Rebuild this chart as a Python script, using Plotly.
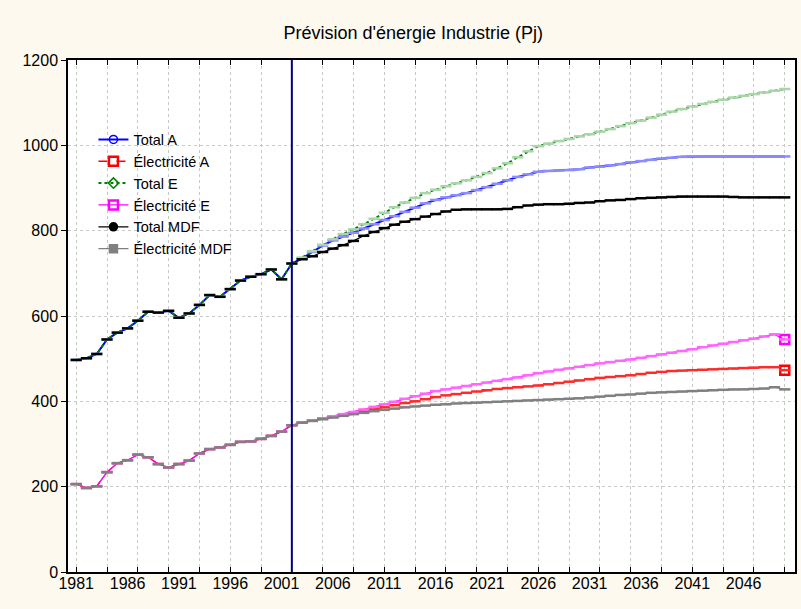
import plotly.graph_objects as go

years = list(range(1981, 2051))
forecast_start = 2002

# Historical values (1981-2002), common to all scenarios
hist_total = [497, 501, 511, 545, 561, 571, 589, 610, 608, 612, 596, 606,
              626, 649, 645, 663, 683, 692, 698, 709, 686, 723]
hist_elec = [206, 197, 201, 234, 255, 262, 275, 269, 253, 245, 253, 261,
             278, 288, 292, 298, 305, 306, 312, 319, 329, 344]

# Forecasts 2003-2050
total_a_fc = [735, 750, 765, 777, 786, 795, 805, 815, 825, 834, 844, 854,
              864, 872, 878, 883, 888, 895, 902, 910, 918, 926, 932, 938,
              940, 941, 942, 944, 948, 950, 953, 956, 960, 963, 966, 969,
              971, 973, 974, 974, 974, 974, 974, 974, 974, 974, 974, 974]
total_e_fc = [737, 752, 767, 780, 792, 803, 815, 828, 842, 855, 866, 877,
              888, 896, 904, 911, 918, 926, 935, 946, 958, 972, 986, 998,
              1004, 1010, 1015, 1021, 1026, 1032, 1038, 1045, 1052, 1058, 1065, 1072,
              1079, 1085, 1091, 1097, 1102, 1107, 1112, 1116, 1120, 1124, 1128, 1132]
total_mdf_fc = [733, 740, 750, 758, 766, 776, 788, 797, 806, 814, 821, 827,
                833, 839, 845, 849, 850, 850, 850, 850, 851, 855, 859, 861,
                862, 862, 863, 865, 866, 869, 871, 872, 874, 876, 877, 878,
                879, 880, 880, 880, 880, 880, 879, 878, 878, 878, 878, 878]
elec_a_fc = [350, 355, 360, 364, 368, 372, 376, 381, 386, 391, 396, 400,
             405, 410, 414, 417, 420, 423, 426, 429, 431, 433, 435, 437,
             440, 443, 446, 449, 452, 455, 457, 459, 461, 464, 467, 469,
             471, 472, 473, 474, 475, 476, 477, 478, 479, 480, 480, 473]
elec_e_fc = [350, 355, 360, 365, 370, 375, 381, 387, 393, 399, 406, 412,
             418, 424, 428, 432, 436, 440, 444, 448, 452, 456, 461, 466,
             470, 474, 477, 481, 485, 489, 492, 495, 498, 502, 506, 510,
             514, 518, 522, 527, 531, 535, 539, 543, 547, 552, 557, 545]
elec_mdf_fc = [350, 354, 358, 362, 366, 370, 373, 377, 380, 383, 386, 388,
               390, 392, 393, 395, 396, 397, 398, 399, 400, 401, 402, 403,
               404, 405, 406, 407, 409, 411, 413, 415, 416, 418, 420, 421,
               422, 423, 424, 425, 426, 427, 428, 428, 429, 430, 433, 428]

names = ["Total A", "Électricité A", "Total E", "Électricité E", "Total MDF", "Électricité MDF"]
series = {
    "Total A": hist_total + total_a_fc,
    "Électricité A": hist_elec + elec_a_fc,
    "Total E": hist_total + total_e_fc,
    "Électricité E": hist_elec + elec_e_fc,
    "Total MDF": hist_total + total_mdf_fc,
    "Électricité MDF": hist_elec + elec_mdf_fc,
}

style = {
    "Total A": dict(color="#0000ff", dash="solid", width=2, mcol="#8c8cff",
                    sym="circle-open", mfill="#0000ff", end=False),
    "Électricité A": dict(color="#ff0000", dash="dash", width=1.3, mcol="#ff2a2a",
                          sym="square-open", mfill="#ff0000", end=True),
    "Total E": dict(color="#008000", dash="dot", width=2, mcol="#a9d6a9",
                    sym="diamond-open", mfill="#008000", end=False),
    "Électricité E": dict(color="#ff00ff", dash="solid", width=1.3, mcol="#ff66ff",
                          sym="square-open", mfill="#ff00ff", end=True),
    "Total MDF": dict(color="#000000", dash="solid", width=1.2, mcol="#000000",
                      sym="circle", mfill="#000000", end=False),
    "Électricité MDF": dict(color="#808080", dash="solid", width=1.2, mcol="#808080",
                            sym="square", mfill="#808080", end=False),
}

fig = go.Figure()

# Lines (MDF underneath, then A, then E)
for n in ["Total MDF", "Électricité MDF", "Total A", "Électricité A", "Total E", "Électricité E"]:
    s = style[n]
    fig.add_trace(go.Scatter(x=years, y=series[n], mode="lines", showlegend=False,
                             hoverinfo="skip",
                             line=dict(color=s["color"], dash=s["dash"], width=s["width"])))

# Dash point markers (drawn slightly above the lines, MDF on top)
for n in ["Total A", "Électricité A", "Total E", "Électricité E", "Total MDF", "Électricité MDF"]:
    s = style[n]
    fig.add_trace(go.Scatter(x=years, y=series[n], mode="markers", showlegend=False,
                             hoverinfo="skip", yaxis="y2",
                             marker=dict(symbol="line-ew", size=8,
                                         line=dict(color=s["mcol"], width=2.5))))

# Legend entries + end markers
for n in names:
    s = style[n]
    if s["end"]:
        xs, ys = [years[-1]], [series[n][-1]]
    else:
        xs, ys = [None], [None]
    fig.add_trace(go.Scatter(
        x=xs, y=ys, mode="lines+markers", name=n, cliponaxis=False,
        line=dict(color=s["color"], dash=s["dash"], width=s["width"]),
        marker=dict(symbol=s["sym"], size=9 if s["end"] else 8, color=s["mfill"],
                    line=dict(color=s["color"], width=2.5 if s["end"] else 1.5)),
    ))

fig.add_shape(type="line", x0=forecast_start, x1=forecast_start, y0=0, y1=1200,
              xref="x", yref="y", line=dict(color="#000080", width=2), layer="above")

fig.update_layout(
    width=801, height=609,
    margin=dict(l=68, r=4, t=60, b=37),
    paper_bgcolor="#fdf9ee",
    plot_bgcolor="#ffffff",
    font=dict(family="Liberation Sans, Arial, sans-serif", size=16, color="#000000"),
    title=dict(text="Prévision d'énergie Industrie (Pj)", x=0.516, xanchor="center",
               y=1 - 33 / 609, yanchor="middle", font=dict(size=18)),
    legend=dict(x=0.035, y=0.876, xanchor="left", yanchor="top",
                bgcolor="rgba(0,0,0,0)", font=dict(size=14.5), tracegroupgap=0),
    showlegend=True,
)

fig.update_xaxes(
    range=[1980.2, 2051.0],
    tickmode="array",
    tickvals=list(range(1981, 2051, 3)),
    ticktext=[""] * len(range(1981, 2051, 3)),
    ticks="inside", ticklen=5, tickcolor="#000000",
    showline=True, linecolor="#000000", linewidth=1.5, mirror="ticks",
    showgrid=True, gridcolor="#c8c8c8", griddash="dot", gridwidth=1,
    zeroline=False,
)
# year labels every 5 years
fig.update_layout(
    xaxis2=dict(overlaying="x", side="bottom", range=[1980.2, 2051.0],
                tickmode="array", tickvals=list(range(1981, 2050, 5)),
                ticktext=[str(y) for y in range(1981, 2050, 5)],
                ticks="", showgrid=False, showline=False, zeroline=False,
                tickfont=dict(size=16), anchor="y"),
    yaxis2=dict(overlaying="y", range=[-7, 1193], visible=False, showgrid=False,
                zeroline=False),
)
fig.add_trace(go.Scatter(x=[None], y=[None], xaxis="x2", showlegend=False, hoverinfo="skip"))

fig.update_yaxes(
    range=[0, 1200],
    tickmode="array", tickvals=[0, 200, 400, 600, 800, 1000, 1200],
    ticks="outside", ticklen=5, tickcolor="#000000",
    showline=True, linecolor="#000000", linewidth=1.5, mirror=True,
    showgrid=True, gridcolor="#c8c8c8", griddash="dot", gridwidth=1,
    zeroline=False, tickfont=dict(size=16),
)
fig.update_layout(yaxis2=dict(visible=False))

fig.write_html("out.html",
               config={"displayModeBar": False},
               post_script="document.body.style.margin='0';"
                           "document.body.style.background='#fdf9ee';")
